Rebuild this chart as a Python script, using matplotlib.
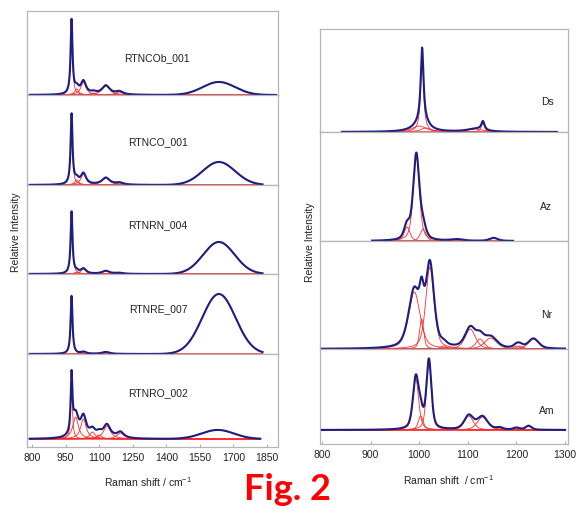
import numpy as np
import matplotlib
matplotlib.use("Agg")
import matplotlib.pyplot as plt

plt.rcParams['font.family'] = ['Liberation Sans', 'DejaVu Sans']
plt.rcParams['mathtext.fontset'] = 'custom'
plt.rcParams['mathtext.rm'] = 'Liberation Sans'
plt.rcParams['mathtext.it'] = 'Liberation Sans:italic'

# ---------------- data: fitted band parameters (centre, height, FWHM, Lorentz fraction) -------------
left_names = ["RTNCOb_001", "RTNCO_001", "RTNRN_004", "RTNRE_007", "RTNRO_002"]

rtncob_center = [977, 1000, 1030, 1075, 1130, 1190, 1635]
rtncob_height = [74, 6, 13, 2, 9, 3, 13]
rtncob_fwhm = [10, 22, 28, 30, 42, 40, 170]
rtncob_lfrac = [1, 1, 1, 1, 1, 1, 0]

rtnco_center = [977, 1000, 1030, 1130, 1190, 1635]
rtnco_height = [70, 5, 11, 7, 2, 23]
rtnco_fwhm = [10, 22, 28, 42, 40, 170]
rtnco_lfrac = [1, 1, 1, 1, 1, 0]

rtnrn_center = [977, 1000, 1030, 1130, 1190, 1635]
rtnrn_height = [62, 2, 5, 3, 1, 32]
rtnrn_fwhm = [10, 22, 28, 40, 40, 165]
rtnrn_lfrac = [1, 1, 1, 1, 1, 0]

rtnre_center = [977, 1030, 1130, 1635]
rtnre_height = [58, 2, 2, 60]
rtnre_fwhm = [10, 28, 40, 175]
rtnre_lfrac = [1, 1, 1, 0]

rtnro_center = [977, 995, 1030, 1070, 1100, 1135, 1195, 1630]
rtnro_height = [58, 22, 20, 7, 4, 13, 6, 9]
rtnro_fwhm = [9, 30, 30, 30, 30, 38, 38, 170]
rtnro_lfrac = [1, 1, 1, 1, 1, 1, 1, 0]

right_names = ["Ds", "Az", "Nr", "Am"]

ds_center = [1006, 1000, 1013, 1131, 1115]
ds_height = [76, 6, 4, 9, 3]
ds_fwhm = [7, 36, 24, 8, 40]
ds_lfrac = [1, 1, 1, 1, 1]

az_center = [975, 994, 1008, 1078, 1153]
az_height = [14, 86, 12, 1.5, 3]
az_fwhm = [14, 15, 14, 30, 20]
az_lfrac = [0.5, 0.5, 0.5, 0.5, 0.5]

nr_center = [990, 1005, 1022, 1050, 1105, 1125, 1147, 1200, 1207, 1235]
nr_height = [57, 30, 82, 3, 20, 10, 11, 3, 3, 10]
nr_fwhm = [28, 10, 20, 15, 25, 20, 30, 15, 15, 25]
nr_lfrac = [0.5] * 10

am_center = [993, 1003, 1020, 1102, 1130, 1165, 1200, 1225]
am_height = [51, 14, 69, 14, 13, 2, 2, 4]
am_fwhm = [14, 12, 12, 22, 25, 15, 15, 15]
am_lfrac = [0.5] * 8

left_xticks = [800, 950, 1100, 1250, 1400, 1550, 1700, 1850]
right_xticks = [800, 900, 1000, 1100, 1200, 1300]

left_ranges = [(790, 1890), (790, 1830), (790, 1830), (790, 1830), (790, 1820)]
right_ranges = [(841, 1283), (903, 1193), (800, 1300), (800, 1300)]

left_sets = [
    (rtncob_center, rtncob_height, rtncob_fwhm, rtncob_lfrac),
    (rtnco_center, rtnco_height, rtnco_fwhm, rtnco_lfrac),
    (rtnrn_center, rtnrn_height, rtnrn_fwhm, rtnrn_lfrac),
    (rtnre_center, rtnre_height, rtnre_fwhm, rtnre_lfrac),
    (rtnro_center, rtnro_height, rtnro_fwhm, rtnro_lfrac),
]
right_sets = [
    (ds_center, ds_height, ds_fwhm, ds_lfrac),
    (az_center, az_height, az_fwhm, az_lfrac),
    (nr_center, nr_height, nr_fwhm, nr_lfrac),
    (am_center, am_height, am_fwhm, am_lfrac),
]

# ---------------- layout (pixels) ----------------
W, H = 581, 514
BLUE = '#1e1e82'
RED = '#ff2a2a'
FRAME = '#b5b5b5'

left_x = (27, 278)
left_bounds = [11, 95, 185, 274, 354, 447]
left_ylims = [(0, 84), (0, 90), (0, 89), (0, 80), (-8, 85)]
left_xlim = (778, 1899)
left_label_pos = [(157, 58), (158, 142), (158, 225), (158, 309), (158, 393)]

right_x = (320, 568)
right_bounds = [29, 132, 241, 349, 444]
right_ylims = [(0, 103), (0, 109), (0, 108), (-14, 81)]
right_xlim = (796, 1306)
right_label_pos = [(547, 102), (546, 207), (547, 315), (547, 411)]


def band(x, c, h, w, lf):
    g = h * np.exp(-4 * np.log(2) * (x - c) ** 2 / w ** 2)
    l = h / (1 + 4 * (x - c) ** 2 / w ** 2)
    return lf * l + (1 - lf) * g


fig = plt.figure(figsize=(W / 100, H / 100), dpi=100)


def column(xpx, bounds, ylims, xlim, sets, ranges, xticks):
    n = len(sets)
    for i in range(n):
        top, bot = bounds[i], bounds[i + 1]
        rect = [xpx[0] / W, 1 - bot / H, (xpx[1] - xpx[0]) / W, (bot - top) / H]
        ax = fig.add_axes(rect)
        ax.set_xlim(*xlim)
        ax.set_ylim(*ylims[i])
        for s in ax.spines.values():
            s.set_color(FRAME)
            s.set_linewidth(0.9)
        ax.set_yticks([])
        ax.set_xticks(xticks)
        ax.tick_params(axis='x', direction='in', length=2, color=FRAME,
                       labelsize=7.5, labelcolor='#222222', pad=4)
        if i < n - 1:
            ax.tick_params(axis='x', length=0, labelbottom=False)
        c, hgt, wd, lf = sets[i]
        x0, x1 = ranges[i]
        xs = np.linspace(x0, x1, 3000)
        tot = np.zeros_like(xs)
        for cc, hh, ww, ll in zip(c, hgt, wd, lf):
            comp = band(xs, cc, hh, ww, ll)
            ax.plot(xs, comp, color=RED, lw=0.6, zorder=2)
            tot += comp
        ax.plot(xs, tot, color=BLUE, lw=1.5, zorder=3, solid_joinstyle='round')


column(left_x, left_bounds, left_ylims, left_xlim, left_sets, left_ranges, left_xticks)
column(right_x, right_bounds, right_ylims, right_xlim, right_sets, right_ranges, right_xticks)

for name, (px, py) in zip(left_names, left_label_pos):
    fig.text(px / W, 1 - py / H, name, ha='center', va='center', fontsize=7.5, color='#222222')
for name, (px, py) in zip(right_names, right_label_pos):
    fig.text(px / W, 1 - py / H, name, ha='center', va='center', fontsize=7.5, color='#222222')

fig.text(16 / W, 1 - 232 / H, 'Relative Intensity', rotation=90, ha='center', va='center',
         fontsize=7.5, color='#222222')
fig.text(310 / W, 1 - 242 / H, 'Relative Intensity', rotation=90, ha='center', va='center',
         fontsize=7.5, color='#222222')
fig.text(148 / W, 1 - 482 / H, r'Raman shift / cm$^{-1}$', ha='center', va='center',
         fontsize=7.5, color='#222222')
fig.text(448 / W, 1 - 480 / H, r'Raman shift  / cm$^{-1}$', ha='center', va='center',
         fontsize=7.5, color='#222222')

fig.text(287 / W, 1 - 500 / H, 'Fig. 2', ha='center', va='baseline', fontsize=26,
         fontweight='bold', color='#ff0000', family=['Lato', 'DejaVu Sans'])

fig.savefig('out.png', dpi=100)
